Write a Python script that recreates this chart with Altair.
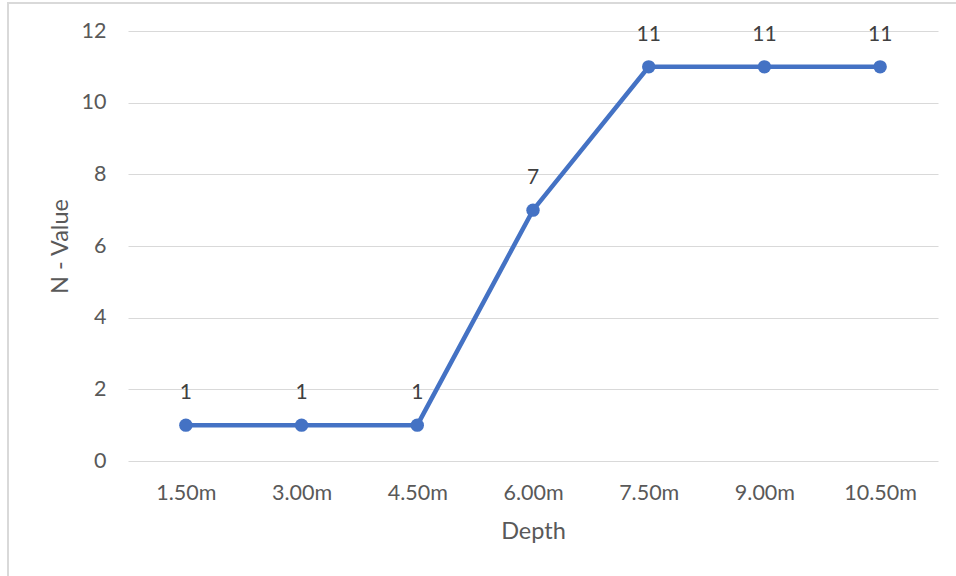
import altair as alt
import pandas as pd

depths = ["1.50m", "3.00m", "4.50m", "6.00m", "7.50m", "9.00m", "10.50m"]
n_values = [1, 1, 1, 7, 11, 11, 11]

df = pd.DataFrame({"Depth": depths, "N": n_values})

FONT = "Lato"
BLUE = "#4472C4"

x_enc = alt.X(
    "Depth:N", sort=depths, title="Depth",
    scale=alt.Scale(paddingInner=0, paddingOuter=0.5),
    axis=alt.Axis(labelAngle=0, domain=False, ticks=False, grid=False,
                  labelPadding=21, labelFontSize=21.5, labelColor="#595959",
                  labelFont=FONT, titleFont=FONT, titleFontSize=23.5,
                  titleColor="#595959", titleFontWeight="normal",
                  titleBaseline="middle", titleY=70),
)
y_enc = alt.Y(
    "N:Q", title="N - Value",
    scale=alt.Scale(domain=[0, 12], nice=False),
    axis=alt.Axis(values=[0, 2, 4, 6, 8, 10, 12], domain=False, ticks=False,
                  gridColor="#d9d9d9", gridWidth=1.2,
                  labelPadding=22, labelFontSize=21.5, labelColor="#595959",
                  labelFont=FONT, titleFont=FONT, titleFontSize=23.5,
                  titleColor="#595959", titleFontWeight="normal",
                  titleX=-68, titleY=215, titleBaseline="middle"),
)

base = alt.Chart(df)

border = base.mark_rect(fill=None, stroke="#d9d9d9", strokeWidth=2).encode(
    x=alt.value(-120), x2=alt.value(860), y=alt.value(-28), y2=alt.value(600)
).transform_filter(alt.datum.Depth == depths[0])

line = base.mark_line(color=BLUE, strokeWidth=4.5).encode(x=x_enc, y=y_enc)
points = base.mark_point(filled=True, size=180, color=BLUE, opacity=1).encode(
    x=alt.X("Depth:N", sort=depths), y="N:Q")
labels = base.mark_text(dy=-32, fontSize=21, font=FONT, color="#404040").encode(
    x=alt.X("Depth:N", sort=depths), y="N:Q", text="N:Q")

chart = alt.layer(line, points, labels, border).properties(
    width=810, height=430,
    autosize=alt.AutoSizeParams(type="none"),
    padding={"left": 128, "top": 31, "right": 18, "bottom": 115},
).configure(background="white").configure_view(stroke=None)

chart.save("out.html", embed_options={"renderer": "svg", "actions": False})
